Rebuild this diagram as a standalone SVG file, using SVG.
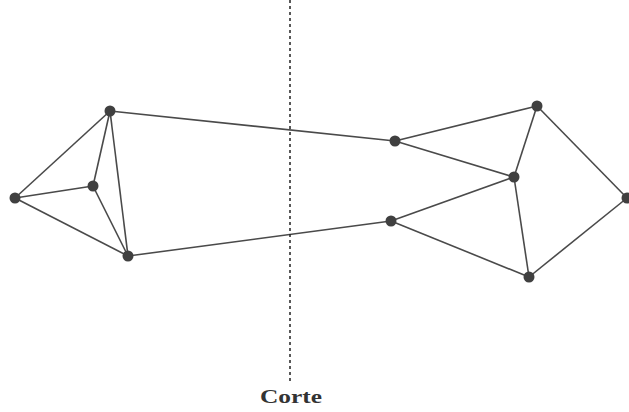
<svg xmlns="http://www.w3.org/2000/svg" width="629" height="412" viewBox="0 0 629 412">
<style>
.e{stroke:#4a4a4a;stroke-width:1.6;fill:none}
.n{fill:#404040}
.cut{stroke:#222;stroke-width:1.5;stroke-dasharray:3,3}
.lbl{font-family:"Liberation Serif","DejaVu Serif",serif;font-weight:bold;font-size:19px;fill:#333}
</style>
<rect width="629" height="412" fill="#fff"/>
<g id="connectors">
<line class="e" x1="110" y1="111" x2="15" y2="198"/>
<line class="e" x1="110" y1="111" x2="93" y2="186"/>
<line class="e" x1="110" y1="111" x2="128" y2="256"/>
<line class="e" x1="15" y1="198" x2="93" y2="186"/>
<line class="e" x1="15" y1="198" x2="128" y2="256"/>
<line class="e" x1="93" y1="186" x2="128" y2="256"/>
<line class="e" x1="110" y1="111" x2="395" y2="141"/>
<line class="e" x1="128" y1="256" x2="391" y2="221"/>
<line class="e" x1="395" y1="141" x2="537" y2="106"/>
<line class="e" x1="395" y1="141" x2="514" y2="177"/>
<line class="e" x1="537" y1="106" x2="514" y2="177"/>
<line class="e" x1="391" y1="221" x2="514" y2="177"/>
<line class="e" x1="391" y1="221" x2="529" y2="277"/>
<line class="e" x1="514" y1="177" x2="529" y2="277"/>
<line class="e" x1="537" y1="106" x2="627" y2="198"/>
<line class="e" x1="529" y1="277" x2="627" y2="198"/>
</g>
<line id="cut" class="cut" x1="290" y1="0" x2="290" y2="382"/>
<g id="nA"><circle class="n" cx="110" cy="111" r="5.5"/></g>
<g id="nB"><circle class="n" cx="15" cy="198" r="5.5"/></g>
<g id="nC"><circle class="n" cx="93" cy="186" r="5.5"/></g>
<g id="nD"><circle class="n" cx="128" cy="256" r="5.5"/></g>
<g id="nE"><circle class="n" cx="395" cy="141" r="5.5"/></g>
<g id="nF"><circle class="n" cx="537" cy="106" r="5.5"/></g>
<g id="nG"><circle class="n" cx="514" cy="177" r="5.5"/></g>
<g id="nH"><circle class="n" cx="391" cy="221" r="5.5"/></g>
<g id="nI"><circle class="n" cx="529" cy="277" r="5.5"/></g>
<g id="nJ"><circle class="n" cx="627" cy="198" r="5.5"/></g>
<text class="lbl" x="260" y="403" textLength="62" lengthAdjust="spacingAndGlyphs">Corte</text>
</svg>
